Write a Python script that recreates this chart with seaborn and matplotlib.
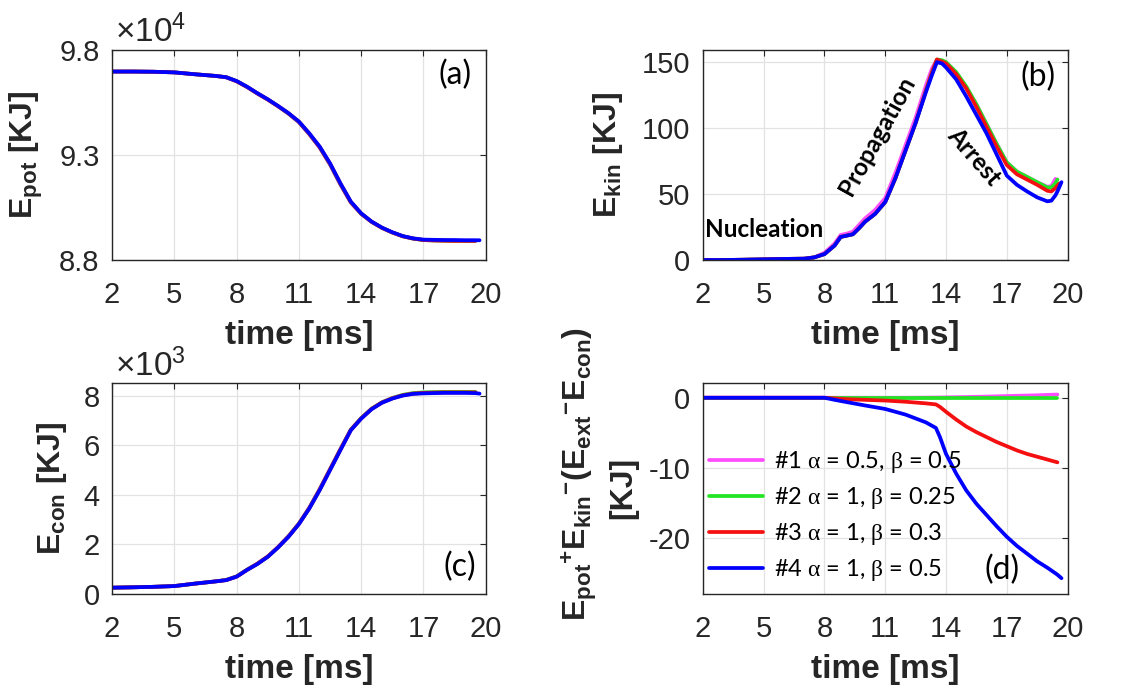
import numpy as np
import seaborn as sns
import matplotlib.pyplot as plt

sns.set_style("whitegrid")
plt.rcParams["font.family"] = ["Liberation Sans", "DejaVu Sans"]
plt.rcParams["mathtext.fontset"] = "custom"
plt.rcParams["mathtext.rm"] = "Liberation Sans"
plt.rcParams["mathtext.bf"] = "Liberation Sans:bold"
plt.rcParams["mathtext.it"] = "Liberation Sans:italic"
plt.rcParams["mathtext.sf"] = "Liberation Serif"
plt.rcParams["axes.unicode_minus"] = False

TXT = "#262626"
COLORS = ["#ff4dff", "#22e622", "#f41010", "#0000ff"]  # #1, #2, #3, #4
LEGEND_LABELS = [
    r"#1 $\mathsf{\alpha}$ = 0.5, $\mathsf{\beta}$ = 0.5",
    r"#2 $\mathsf{\alpha}$ = 1, $\mathsf{\beta}$ = 0.25",
    r"#3 $\mathsf{\alpha}$ = 1, $\mathsf{\beta}$ = 0.3",
    r"#4 $\mathsf{\alpha}$ = 1, $\mathsf{\beta}$ = 0.5",
]
nan = np.nan

# (a) potential energy, x1e4 KJ
t_a = [2, 3, 4, 5, 6, 7, 7.5, 8, 8.5, 9, 9.5, 10, 10.5, 11, 11.5, 12, 12.5, 13, 13.5,
       14, 14.5, 15, 15.5, 16, 16.5, 17, 17.5, 18, 18.5, 19, 19.5, 19.7]
epot_1 = [9.697, 9.697, 9.696, 9.693, 9.684, 9.676, 9.669, 9.650, 9.623, 9.592, 9.563, 9.531,
          9.496, 9.455, 9.398, 9.334, 9.253, 9.158, 9.073, 9.019, 8.981, 8.953, 8.931, 8.913,
          8.902, 8.896, 8.894, 8.893, 8.892, 8.892, 8.892, nan]
epot_2 = [9.697, 9.697, 9.696, 9.693, 9.684, 9.676, 9.670, 9.651, 9.624, 9.593, 9.564, 9.532,
          9.497, 9.457, 9.400, 9.337, 9.256, 9.161, 9.075, 9.020, 8.982, 8.953, 8.931, 8.913,
          8.902, 8.895, 8.893, 8.892, 8.891, 8.891, 8.891, nan]
epot_3 = [9.697, 9.697, 9.696, 9.693, 9.684, 9.676, 9.670, 9.651, 9.624, 9.593, 9.564, 9.532,
          9.498, 9.458, 9.401, 9.338, 9.258, 9.163, 9.076, 9.021, 8.982, 8.953, 8.931, 8.913,
          8.902, 8.895, 8.893, 8.892, 8.891, 8.891, 8.891, nan]
epot_4 = [9.697, 9.697, 9.696, 9.693, 9.684, 9.676, 9.670, 9.652, 9.625, 9.594, 9.565, 9.533,
          9.499, 9.459, 9.403, 9.340, 9.260, 9.165, 9.078, 9.022, 8.983, 8.954, 8.932, 8.914,
          8.903, 8.897, 8.896, 8.895, 8.895, 8.894, 8.894, 8.894]

# (b) kinetic energy, KJ
t_b = [2, 3, 4, 5, 6, 7, 7.5, 8, 8.5, 8.8, 9.1, 9.4, 9.7, 10, 10.5, 11, 11.5, 12, 12.5, 13,
       13.3, 13.55, 13.8, 14, 14.5, 15, 15.5, 16, 16.5, 17, 17.5, 18, 18.5, 19, 19.2, 19.4,
       19.5, 19.6, 19.7]
ekin_1 = [0, 0, 0.2, 0.5, 0.8, 1, 2, 5.5, 12.5, 19, 20, 21.5, 26.5, 31.5, 38, 47, 66, 87, 108, 132,
          145, 152, 151, 150, 142, 131, 118, 103, 88, 74, 67, 63, 59, 55.5, 56, 61.5, nan, nan, nan]
ekin_2 = [0, 0, 0.2, 0.5, 0.8, 1, 2, 4.5, 11, 17.5, 18.5, 19.5, 24, 29, 35, 44, 62, 83, 104, 128,
          142, 152, 151.5, 150, 142.5, 131.5, 118, 103, 88, 74, 67, 63, 59, 55, 55, 58, 61, nan, nan]
ekin_3 = [0, 0, 0.2, 0.5, 0.8, 1, 2, 4.5, 11, 17.5, 18.5, 19.5, 24, 29, 35, 44, 62, 83, 104, 128,
          142, 152, 150.5, 149, 141, 130, 116, 101, 86, 72, 65, 61, 57, 52.5, 52, 54.5, 56.5, 58, nan]
ekin_4 = [0, 0, 0.2, 0.5, 0.8, 1, 2, 4.5, 11, 17.5, 18.5, 19.5, 24, 29, 35, 44, 62, 83, 104, 127,
          140, 150, 149, 146, 137, 124, 110, 96, 80, 64, 57, 52, 47.5, 44.5, 45, 49, 52, 55.5, 59]

# (c) contact energy, x1e3 KJ
t_c = t_a
econ_1 = [0.255, 0.27, 0.29, 0.32, 0.42, 0.51, 0.57, 0.71, 0.98, 1.23, 1.52, 1.90, 2.34, 2.85,
          3.49, 4.24, 5.05, 5.86, 6.64, 7.10, 7.48, 7.74, 7.91, 8.03, 8.10, 8.12, 8.13, 8.14,
          8.14, 8.14, 8.14, nan]
econ_2 = [0.255, 0.27, 0.29, 0.32, 0.42, 0.51, 0.57, 0.71, 0.98, 1.22, 1.51, 1.89, 2.33, 2.84,
          3.47, 4.22, 5.03, 5.84, 6.63, 7.10, 7.48, 7.74, 7.91, 8.04, 8.11, 8.14, 8.15, 8.16,
          8.16, 8.16, 8.16, nan]
econ_3 = [0.255, 0.27, 0.29, 0.32, 0.42, 0.51, 0.56, 0.70, 0.97, 1.22, 1.51, 1.89, 2.32, 2.83,
          3.46, 4.21, 5.02, 5.83, 6.62, 7.09, 7.47, 7.73, 7.90, 8.02, 8.09, 8.12, 8.13, 8.14,
          8.14, 8.14, 8.14, nan]
econ_4 = [0.255, 0.27, 0.29, 0.32, 0.42, 0.51, 0.56, 0.70, 0.97, 1.21, 1.50, 1.88, 2.31, 2.82,
          3.45, 4.19, 5.00, 5.81, 6.61, 7.08, 7.46, 7.72, 7.89, 8.01, 8.08, 8.10, 8.11, 8.12,
          8.12, 8.12, 8.11, 8.09]

# (d) energy balance, KJ
t_d = [2, 4, 6, 7, 8, 8.5, 9, 10, 11, 12, 13, 13.5, 13.7, 14, 14.5, 15, 15.5, 16, 16.5, 17,
       17.5, 18, 18.5, 19, 19.5, 19.7]
bal_1 = [0, 0, 0, 0, 0, 0, 0, 0, 0, 0, 0.02, 0.03, 0.04, 0.05, 0.08, 0.1, 0.13, 0.16, 0.2,
         0.24, 0.28, 0.31, 0.35, 0.4, 0.45, nan]
bal_2 = [0, 0, 0, 0, 0, 0, 0, 0, 0, 0, 0, 0, 0, 0, 0, 0, 0, 0, 0, 0, 0, 0, 0, 0, 0, nan]
bal_3 = [0, 0, 0, 0, 0, -0.1, -0.2, -0.3, -0.4, -0.57, -0.8, -0.95, -1.3, -2.0, -3.1, -4.1,
         -4.9, -5.6, -6.3, -6.9, -7.5, -8.0, -8.4, -8.8, -9.2, nan]
bal_4 = [0, 0, 0, 0, 0, -0.3, -0.57, -1.1, -1.6, -2.4, -3.5, -4.3, -5.6, -8.0, -10.8, -13.2,
         -15.1, -16.7, -18.3, -19.8, -21.1, -22.2, -23.3, -24.2, -25.2, -25.7]

X_TICKS = [2, 5, 8, 11, 14, 17, 20]


def style_axes(ax, ylim, yticks, ylabel, labelpad):
    ax.set_xlim(2, 20)
    ax.set_ylim(*ylim)
    ax.set_xticks(X_TICKS)
    ax.set_yticks(yticks)
    ax.grid(True, color="#e2e2e2", linewidth=0.9)
    for sp in ax.spines.values():
        sp.set_color(TXT)
        sp.set_linewidth(1.0)
    ax.tick_params(direction="in", length=4, width=0.8, top=True, right=True,
                   labelsize=21, colors=TXT)
    ax.tick_params(axis="x", pad=15)
    ax.tick_params(axis="y", pad=9)
    ax.set_xlabel("time [ms]", fontsize=24, fontweight="bold", color=TXT, labelpad=8)
    ax.set_ylabel(ylabel, fontsize=23, fontweight="bold", color=TXT, labelpad=labelpad)


def draw_series(ax, t, series, labels=None):
    for i, (vals, col) in enumerate(zip(series, COLORS)):
        kw = {"label": labels[i]} if labels else {}
        sns.lineplot(x=t, y=vals, color=col, linewidth=2.7, sort=False, ax=ax, **kw)


def panel_tag(ax, txt, x, y):
    ax.text(x, y, txt, transform=ax.transAxes, fontsize=23, family=["Lato", "DejaVu Sans"],
            ha="center", va="center", color="black")


def exponent(ax, txt):
    ax.text(0.008, 1.036, txt, transform=ax.transAxes, fontsize=24, color=TXT,
            ha="left", va="baseline")


fig = plt.figure(figsize=(11.43, 6.98), dpi=100)
ax_a = fig.add_axes([0.098, 0.6275, 0.327, 0.301])
ax_b = fig.add_axes([0.615, 0.6275, 0.319, 0.301])
ax_c = fig.add_axes([0.098, 0.149, 0.327, 0.302])
ax_d = fig.add_axes([0.615, 0.149, 0.319, 0.302])

# (a)
draw_series(ax_a, t_a, [epot_1, epot_2, epot_3, epot_4])
style_axes(ax_a, (8.8, 9.8), [8.8, 9.3, 9.8], r"E$_{\mathbf{pot}}$ [KJ]", 10)
exponent(ax_a, "×10$^{4}$")
panel_tag(ax_a, "(a)", 0.917, 0.88)

# (b)
draw_series(ax_b, t_b, [ekin_1, ekin_2, ekin_3, ekin_4])
style_axes(ax_b, (0, 159.3), [0, 50, 100, 150], r"E$_{\mathbf{kin}}$ [KJ]", 12)
panel_tag(ax_b, "(b)", 0.918, 0.87)
ann = dict(family=["Lato", "DejaVu Sans"], fontweight="bold", fontsize=17.5, color="black",
           ha="center", va="center")
ax_b.text(5.0, 23.5, "Nucleation", **ann)
ax_b.text(10.58, 94, "Propagation", rotation=61, **ann)
ax_b.text(15.4, 78, "Arrest", rotation=-49, **ann)

# (c)
draw_series(ax_c, t_c, [econ_1, econ_2, econ_3, econ_4])
style_axes(ax_c, (0, 8.51), [0, 2, 4, 6, 8], r"E$_{\mathbf{con}}$ [KJ]", 10)
exponent(ax_c, "×10$^{3}$")
panel_tag(ax_c, "(c)", 0.93, 0.128)

# (d)
draw_series(ax_d, t_d, [bal_1, bal_2, bal_3, bal_4], LEGEND_LABELS)
style_axes(ax_d, (-27.95, 2.07), [-20, -10, 0],
           r"E$_{\mathbf{pot}}$$^{\mathbf{+}}$E$_{\mathbf{kin}}$$^{\mathbf{-}}$"
           r"(E$_{\mathbf{ext}}$$^{\mathbf{-}}$E$_{\mathbf{con}}$)", 4)
ax_d.yaxis.set_label_coords(-0.285, 0.57)
ax_d.text(-0.219, 0.502, "[KJ]", transform=ax_d.transAxes, rotation=90, fontsize=23,
          fontweight="bold", color=TXT, ha="center", va="center")
leg = ax_d.legend(loc="lower left", bbox_to_anchor=(0.0, 0.024), frameon=False,
                  prop={"family": ["Lato", "Liberation Serif"], "size": 17},
                  handlelength=2.3, handletextpad=0.45, labelspacing=0.42,
                  borderaxespad=0.0, borderpad=0.25)
for txt in leg.get_texts():
    txt.set_color("black")
panel_tag(ax_d, "(d)", 0.82, 0.114)

fig.savefig("out.png", dpi=100)
